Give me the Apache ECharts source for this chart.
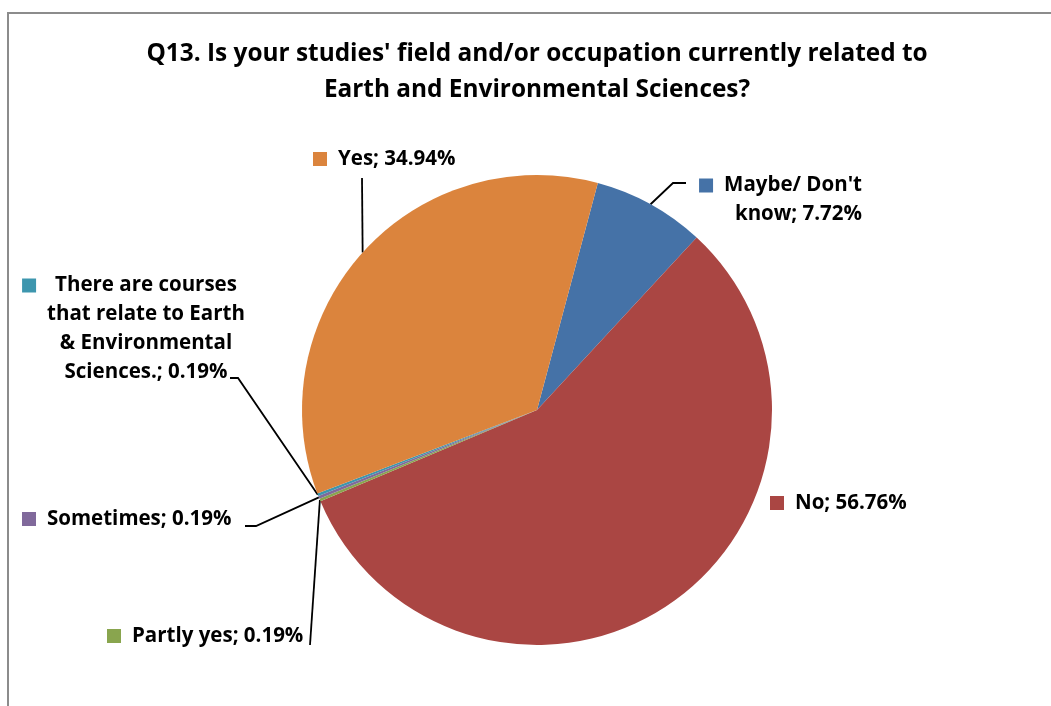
<!DOCTYPE html>
<html>
<head>
<meta charset="utf-8">
<script src="https://cdn.jsdelivr.net/npm/echarts@6/dist/echarts.min.js"></script>
<style>html,body{margin:0;padding:0;background:#fff;}#c{width:1051px;height:706px;}</style>
</head>
<body>
<div id="c"></div>
<script>
// ---- data ----
const categories = ["Maybe/ Don't know", "No", "Partly yes", "Sometimes", "There are courses that relate to Earth & Environmental Sciences.", "Yes"];
const values = [7.72, 56.76, 0.19, 0.19, 0.19, 34.94];
const labelNames = ["Maybe/ Don't\nknow", "No", "Partly yes", "Sometimes", "There are courses\nthat relate to Earth\n& Environmental\nSciences.", "Yes"];
const colors = ['#4572A7', '#AA4643', '#89A54E', '#80699B', '#3D96AE', '#DB843D'];
const titleText = "Q13. Is your studies' field and/or occupation currently related to\nEarth and Environmental Sciences?";

// ---- layout (positions of the label boxes and leader bends) ----
const FONT = 'Open Sans';
const labelLayouts = [
  { x: 862, y: 171, align: 'right', vAlign: 'top', bend: [673, 183], end: [686, 183] },
  { x: 770, y: 503, align: 'left', vAlign: 'middle' },
  { x: 107, y: 636, align: 'left', vAlign: 'middle', bend: [310, 645], end: [310, 645] },
  { x: 22, y: 519, align: 'left', vAlign: 'middle', bend: [256, 526], end: [245, 526] },
  { x: 146, y: 271, align: 'center', vAlign: 'top', bend: [238, 378], end: [230, 378] },
  { x: 313, y: 159, align: 'left', vAlign: 'middle', bend: [362, 178], end: [362, 178] }
];

const rich = { t: { fontFamily: FONT, fontWeight: 'bold', fontSize: 20.5, color: '#000', lineHeight: 29 },
               sp1: { width: 19, height: 10 }, sp2: { width: 33, height: 10 }, g: { width: 11, height: 10 } };
colors.forEach((c, i) => { rich['sq' + i] = { width: 14, height: 14, backgroundColor: c }; });

function fmt(i) {
  const lines = (labelNames[i] + '; ' + values[i].toFixed(2) + '%').split('\n');
  if (i === 4) {
    return lines.map((l, k) => k === 0 ? '{sq4|}{sp1|}{t|' + l + '}{sp2|}' : '{t|' + l + '}').join('\n');
  }
  return lines.map((l, k) => k === 0 ? '{sq' + i + '|}{g|}{t|' + l + '}' : '{t|' + l + '}').join('\n');
}

const data = categories.map((name, i) => ({
  name: name, value: values[i],
  itemStyle: { color: colors[i] },
  labelLine: { show: i !== 1 }
}));

const chart = echarts.init(document.getElementById('c'), null, { renderer: 'canvas' });
chart.setOption({
  animation: false,
  backgroundColor: '#fff',
  title: {
    text: titleText, left: 532, top: 31, textAlign: 'center',
    textStyle: { fontFamily: FONT, fontWeight: 'bold', fontSize: 24.4, color: '#000', lineHeight: 36 }
  },
  graphic: [{
    type: 'rect', shape: { x: 8, y: 13, width: 1200, height: 900 },
    style: { fill: 'none', stroke: '#8c8c8c', lineWidth: 2 }, silent: true
  }],
  series: [{
    type: 'pie',
    center: [537, 410],
    radius: 235,
    startAngle: 75,
    clockwise: true,
    avoidLabelOverlap: false,
    data: data,
    itemStyle: { borderWidth: 0 },
    label: {
      show: true, position: 'outside',
      formatter: p => fmt(p.dataIndex),
      rich: rich
    },
    labelLine: { show: true, lineStyle: { color: '#000', width: 1.8 }, length: 10, length2: 10 },
    labelLayout: function (params) {
      const L = labelLayouts[params.dataIndex];
      const res = { x: L.x, y: L.y, align: L.align, verticalAlign: L.vAlign };
      if (L.bend && params.labelLinePoints) {
        const p0 = params.labelLinePoints[0];
        res.labelLinePoints = [[p0[0], p0[1]], L.bend, L.end];
      }
      return res;
    }
  }]
});
</script>
</body>
</html>
